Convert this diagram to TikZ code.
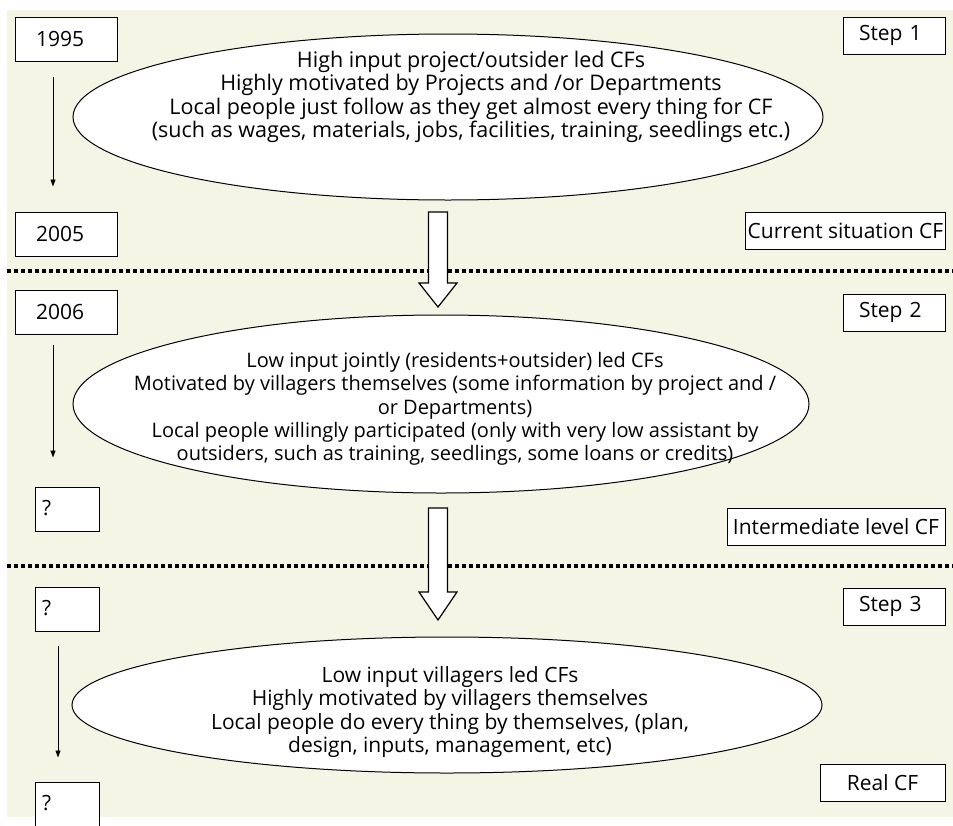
\documentclass[tikz,border=0pt]{standalone}
\usepackage{fontspec}
\setmainfont{Open Sans}
\usetikzlibrary{arrows.meta,shapes.geometric}
\definecolor{cream}{RGB}{245,245,230}
\newcommand{\myfs}{\fontsize{21pt}{23.3pt}\selectfont}
\begin{document}
\begin{tikzpicture}[x=1pt,y=-1pt,
  box/.style={draw,line width=1pt,fill=white,minimum height=37pt,inner sep=2pt,font=\myfs},
  yearbox/.style={box,minimum height=44pt,text width=60pt,align=left,inner xsep=21pt},
  stepbox/.style={box,text width=70pt,align=left,inner xsep=16pt},
  qbox/.style={draw,line width=1pt,fill=white,minimum width=64pt,text width=50pt,align=left,
     inner xsep=7pt,inner ysep=4pt,text height=24pt,text depth=12pt,font=\myfs},
  ell/.style={draw,line width=1pt,fill=white,ellipse,inner sep=0pt},
  txt/.style={align=center,inner sep=0pt,font=\myfs},
  thin/.style={line width=0.9pt,-{Triangle[length=7pt,width=5pt]}},
  dotline/.style={line width=3.2pt,dash pattern=on 4pt off 3pt},
  hollow/.style={draw,line width=1.2pt,fill=white,line join=miter}]
\useasboundingbox (0,0) rectangle (953,825);
\fill[cream] (7,10) rectangle (953,817);

% dotted separators
\draw[dotline] (7,271) -- (953,271);
\draw[dotline] (7,566) -- (953,566);

% ellipses
\node[ell,minimum width=750pt,minimum height=166pt] (e1) at (448,117) {};
\node[ell,minimum width=736pt,minimum height=178pt] (e2) at (441,404) {};
\node[ell,minimum width=750pt,minimum height=136pt] (e3) at (447,705) {};

\node[txt,font=\fontsize{21.5pt}{23.5pt}\selectfont] (t1) at (471,97) {High input project/outsider led CFs\\
Highly motivated by Projects and /or Departments\\
Local people just follow as they get almost every thing for CF\\
(such as wages, materials, jobs, facilities, training, seedlings etc.)};
\node[txt,font=\fontsize{20pt}{23.3pt}\selectfont] (t2) at (455,409) {Low input jointly (residents+outsider) led CFs\\
Motivated by villagers themselves (some information by project and /\\
or Departments)\\
Local people willingly participated (only with very low assistant by\\
outsiders, such as training, seedlings, some loans or credits)};
\node[txt] (t3) at (450,712) {Low input villagers led CFs\\
Highly motivated by villagers themselves\\
Local people do every thing by themselves, (plan,\\
design, inputs, management, etc)};

% hollow arrows
\draw[hollow] (428.5,212) -- (447.5,212) -- (447.5,283) -- (457,283) -- (438,307) -- (419,283) -- (428.5,283) -- cycle;
\draw[hollow] (428.5,508) -- (447.5,508) -- (447.5,592) -- (457,592) -- (438,620) -- (419,592) -- (428.5,592) -- cycle;

% left boxes
\node[yearbox] (y1995) at (66,39) {1995};
\node[yearbox] (y2005) at (66,234) {2005};
\node[yearbox] (y2006) at (66,312) {2006};
\node[qbox] (q1) at (67,509) {?};
\node[qbox] (q2) at (67,609.5) {?};
\node[qbox] (q3) at (67,804) {?};

% right boxes
\node[stepbox] (s1) at (894,35.5) {Step 1};
\node[box,minimum width=199pt] (c1) at (845.5,230.5) {Current situation CF};
\node[stepbox] (s2) at (894,312.5) {Step 2};
\node[box,minimum width=218pt] (c2) at (836,526.5) {Intermediate level CF};
\node[stepbox] (s3) at (894,606.5) {Step 3};
\node[box,minimum width=125pt] (c3) at (882.5,782.5) {Real CF};

% time arrows
\draw[thin] ([xshift=-13pt,yshift=-15pt]y1995.south) -- ([xshift=-13pt,yshift=25pt]y2005.north);
\draw[thin] ([xshift=-13pt,yshift=-10pt]y2006.south) -- ([xshift=-14pt,yshift=29pt]q1.north);
\draw[thin] ([xshift=-9pt,yshift=-14pt]q2.south) -- ([xshift=-9pt,yshift=24pt]q3.north);
\end{tikzpicture}
\end{document}
